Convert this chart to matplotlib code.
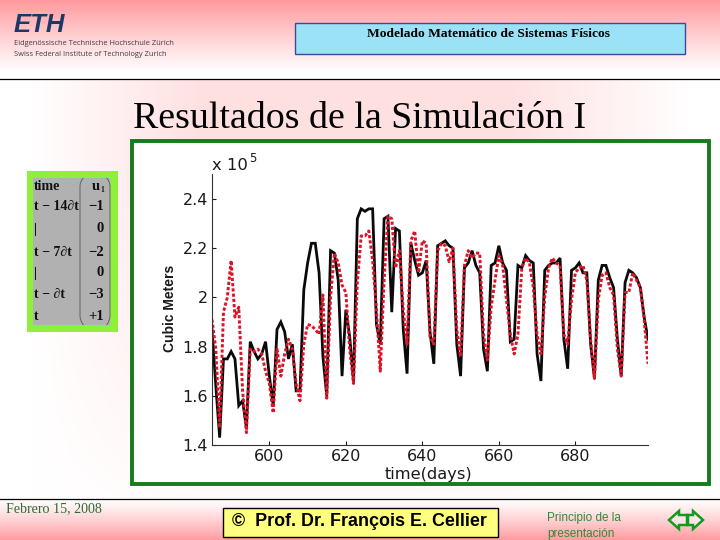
import numpy as np
import matplotlib
matplotlib.use("Agg")
import matplotlib.pyplot as plt
from matplotlib.patches import Rectangle, Polygon
from matplotlib.path import Path
from matplotlib.patches import PathPatch

# ---- chart data (daily values, x 10^5 cubic meters) ----
first_day = 585
measured = [
 1.87,1.64,1.43,1.75,1.75,1.78,1.75,1.56,1.58,1.47,
 1.82,1.78,1.75,1.77,1.82,1.68,1.56,1.87,1.90,1.86,
 1.75,1.81,1.62,1.62,2.03,2.14,2.22,2.22,2.10,1.76,
 1.60,2.19,2.18,2.07,1.68,1.95,1.84,1.66,2.32,2.36,
 2.35,2.36,2.36,1.89,1.81,2.32,2.33,1.94,2.28,2.27,
 1.87,1.69,2.22,2.15,2.09,2.10,2.15,1.86,1.73,2.21,
 2.22,2.23,2.21,2.20,1.81,1.68,2.12,2.14,2.19,2.13,
 2.10,1.79,1.70,2.13,2.14,2.21,2.14,2.11,1.82,1.83,
 2.13,2.12,2.17,2.15,2.14,1.77,1.66,2.11,2.13,2.14,
 2.14,2.16,1.83,1.71,2.11,2.12,2.14,2.10,2.10,1.81,
 1.67,2.07,2.13,2.13,2.08,2.04,1.83,1.68,2.06,2.11,
 2.10,2.08,2.04,1.92,1.83]
simulated = [
 1.91,1.79,1.47,1.94,2.00,2.15,1.92,1.96,1.62,1.45,
 1.79,1.78,1.79,1.77,1.70,1.65,1.53,1.79,1.68,1.77,
 1.83,1.79,1.65,1.58,1.81,1.89,1.885,1.87,1.85,2.01,
 1.59,2.00,2.18,2.14,2.05,2.02,1.79,1.65,2.06,2.25,
 2.25,2.27,2.15,1.95,1.70,2.07,2.33,2.32,2.12,2.19,
 1.95,1.81,2.23,2.27,2.10,2.23,2.22,1.84,1.81,2.19,
 2.22,2.21,2.145,2.20,1.87,1.76,2.13,2.19,2.16,2.18,
 2.18,1.85,1.745,1.96,2.07,2.17,2.13,1.99,1.85,1.77,
 1.85,2.12,2.16,2.14,2.04,1.85,1.77,2.00,2.12,2.16,
 2.14,2.13,1.85,1.81,1.99,2.10,2.12,2.13,2.07,1.83,
 1.67,1.99,2.09,2.10,2.04,2.01,1.79,1.68,2.02,2.02,
 2.10,2.07,2.04,1.91,1.73]
x_ticks = [600, 620, 640, 660, 680]
y_ticks = [1.4, 1.6, 1.8, 2.0, 2.2, 2.4]
y_tick_labels = ["1.4", "1.6", "1.8", "2", "2.2", "2.4"]
x_label = "time(days)"
y_label = "Cubic Meters"
table_left = ["time", "t \u2212 14\u2202t", "|", "t \u2212 7\u2202t", "|", "t \u2212 \u2202t", "t"]
table_right = ["u", "\u22121", "0", "\u22122", "0", "\u22123", "+1"]

SERIF = ["Liberation Serif", "DejaVu Serif"]
SANS = ["Liberation Sans", "DejaVu Sans"]
WIDE = ["DejaVu Sans"]
INK = "#1a1a1a"
W, H = 720, 540
fig = plt.figure(figsize=(7.2, 5.4), dpi=100)

# ---- slide background (pixel coordinates) ----
bg = fig.add_axes([0, 0, 1, 1], zorder=0)
bg.set_xlim(0, W); bg.set_ylim(H, 0); bg.axis("off")
yy, xx = np.mgrid[0:H, 0:W]
pink = np.array([1.0, 0.60, 0.62])
top = np.clip(1 - yy / 72.0, 0, 1) ** 1.1
bot = np.clip((yy - 498) / 42.0, 0, 1) ** 1.2
fx = np.clip((xx - 30) / 170.0, 0, 1) * np.clip((690 - xx) / 180.0, 0, 1)
fy = 0.30 * np.clip((520 - yy) / 330.0, 0, 1) ** 0.8
mid = fx * fy * (yy >= 79) * (yy < 499)
strength = np.clip(top + bot + mid, 0, 1)[..., None]
img = 1 - strength * (1 - pink)
bg.imshow(img, extent=(0, W, H, 0), aspect="auto", interpolation="nearest", zorder=0)
bg.set_xlim(0, W); bg.set_ylim(H, 0)

bg.plot([0, W], [78.5, 78.5], color="black", lw=0.9, zorder=2)
bg.plot([0, W], [498.5, 498.5], color="black", lw=0.9, zorder=2)

# header
bg.text(14, 24.5, "ETH", family=SANS, weight="bold", style="italic", fontsize=18.5,
        color="#1c3768", ha="left", va="center", zorder=3)
bg.text(14, 43.5, "Eidgen\u00f6ssische Technische Hochschule Z\u00fcrich", family=["Open Sans"],
        fontsize=5.45, color="#3c3c46", ha="left", va="center", zorder=3)
bg.text(14, 54.5, "Swiss Federal Institute of Technology Zurich", family=["Open Sans"],
        fontsize=5.45, color="#3c3c46", ha="left", va="center", zorder=3)
bg.add_patch(Rectangle((294.5, 22.5), 390, 31.5, fc="#9be2f7", ec="#3a4a94", lw=1, zorder=3))
bg.text(488.5, 37, "Modelado Matem\u00e1tico de Sistemas F\u00edsicos", family=SERIF, weight="bold",
        fontsize=9.7, color="black", ha="center", va="baseline", zorder=4)

# title
bg.text(133, 128, "Resultados de la Simulaci\u00f3n I", family=SERIF, fontsize=27.3, color="black",
        ha="left", va="baseline", zorder=3)

# chart panel
bg.add_patch(Rectangle((131.5, 140.5), 577, 343, fc="white", ec="#177a1c", lw=2.8, zorder=3))

# small table
bg.add_patch(Rectangle((27, 171), 91, 161, fc="#8ff03c", ec="none", zorder=3))
bg.add_patch(Rectangle((33, 178), 77, 147, fc="#b1b1b1", ec="none", zorder=4))
row_y = [186, 207, 229, 252, 273, 294, 317]
for y, a, b in zip(row_y, table_left, table_right):
    bg.text(34, y, a, family=SERIF, weight="bold", fontsize=10, color="#111111",
            ha="left", va="center", zorder=5)
    bg.text(104 if b != "u" else 100, y, b, family=SERIF, weight="bold", fontsize=10.5,
            color="#111111", ha="right", va="center", zorder=5)
bg.text(100.5, 190, "1", family=SERIF, weight="bold", fontsize=5.5, color="#111111",
        ha="left", va="center", zorder=5)
for x0, x1 in [(83.5, 80), (106.5, 110)]:
    verts = [(x0, 178), (x1, 181), (x1, 186), (x1, 250), (x1, 316), (x1, 321), (x0, 325)]
    codes = [Path.MOVETO, Path.CURVE3, Path.CURVE3, Path.LINETO, Path.LINETO, Path.CURVE3, Path.CURVE3]
    bg.add_patch(PathPatch(Path(verts, codes), fc="none", ec="#555555", lw=0.6, zorder=5))

# footer
bg.text(6, 509, "Febrero 15, 2008", family=SERIF, fontsize=10.1, color="#2c6b35",
        ha="left", va="center", zorder=3)
bg.add_patch(Rectangle((222.5, 507.5), 275.5, 29.5, fc="#ffff80", ec="black", lw=1, zorder=3))
bg.text(232, 526.5, "\u00a9  Prof. Dr. Fran\u00e7ois E. Cellier", family=SANS, weight="bold",
        fontsize=12.9, color="black", ha="left", va="baseline", zorder=4)
bg.text(547, 521.5, "Principio de la", family=SANS, fontsize=8.5, color="#2e8b38",
        ha="left", va="baseline", zorder=3)
bg.text(547, 537, "presentaci\u00f3n", family=SANS, fontsize=8.5, color="#2e8b38",
        ha="left", va="baseline", zorder=3)
bg.add_patch(Polygon([(669, 520), (679, 511), (679, 515), (687, 515), (687, 525), (679, 525), (679, 529)],
                     closed=True, fc="#ffe6e6", ec="#119a22", lw=1.8, zorder=3))
bg.add_patch(Polygon([(703, 520), (693, 511), (693, 515), (688, 515), (688, 525), (693, 525), (693, 529)],
                     closed=True, fc="#ffe6e6", ec="#119a22", lw=1.8, zorder=3))

# ---- the plot ----
ax = fig.add_axes([212 / W, 1 - 445 / H, (648 - 212) / W, (445 - 174.4) / H], zorder=2)
ax.patch.set_alpha(0)
days = np.arange(first_day, first_day + len(measured))
ax.plot(days, measured, color="#0a0a0a", lw=2.0, solid_joinstyle="miter")
ax.plot(days, simulated, color="#dc1428", lw=2.1, ls=(0, (1.1, 0.7)))
ax.set_xlim(days[0], days[-1])
ax.set_ylim(1.4, 2.5)
for s in ("top", "right"):
    ax.spines[s].set_visible(False)
for s in ("left", "bottom"):
    ax.spines[s].set_linewidth(0.8)
    ax.spines[s].set_color("#333333")
ax.set_xticks(x_ticks)
ax.set_yticks(y_ticks)
ax.set_yticklabels(y_tick_labels)
ax.tick_params(direction="in", length=3, width=0.8, labelsize=11.5, colors=INK)
ax.tick_params(axis="x", pad=3)
ax.tick_params(axis="y", pad=3)
for lab in ax.get_xticklabels() + ax.get_yticklabels():
    lab.set_family(WIDE)
ax.set_ylabel("")
bg.text(428.5, 474, x_label, family=WIDE, fontsize=11.7, ha="center", va="center", color=INK, zorder=5)
bg.text(170.5, 308, y_label, family=SANS, weight="bold", fontsize=10, rotation=90,
        ha="center", va="center", color=INK, zorder=5)
bg.text(212, 166, "x 10", family=WIDE, fontsize=11.8, ha="left", va="center", color=INK, zorder=5)
bg.text(249, 158, "5", family=WIDE, fontsize=8.5, ha="left", va="center", color=INK, zorder=5)

fig.savefig("out.png", dpi=100)
